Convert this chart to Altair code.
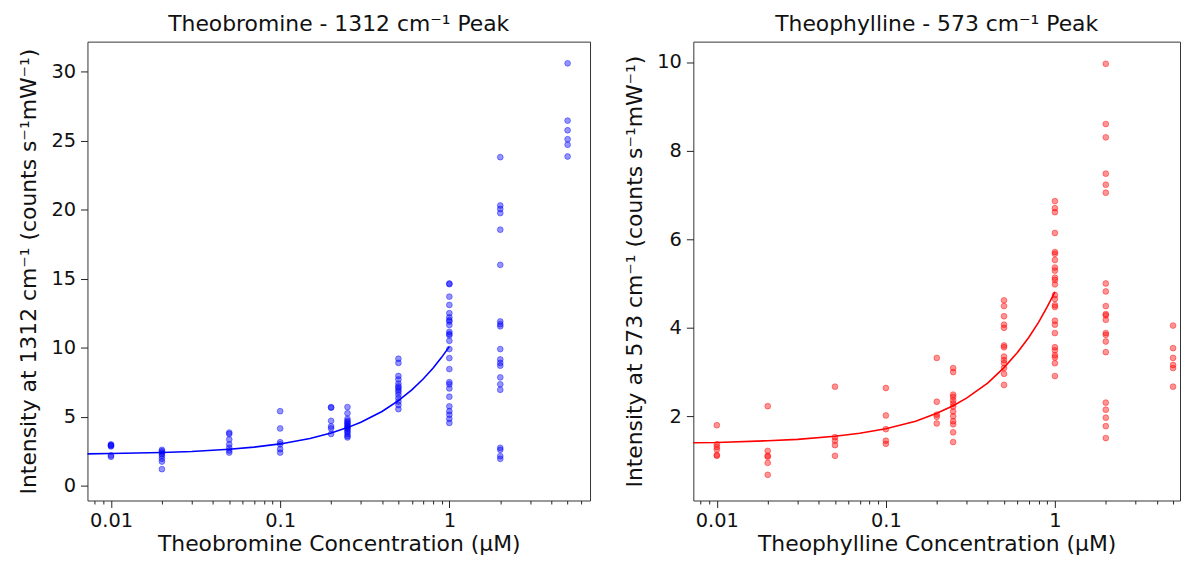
import altair as alt
import pandas as pd

# concentrations (µM)
conc = [0.01, 0.02, 0.05, 0.1, 0.2, 0.25, 0.5, 1, 2, 5]

# Theobromine intensities (1312 cm-1 peak), one list per concentration
theobromine_y = [
    [3.0, 2.95, 2.9, 2.85, 2.2, 2.1],
    [2.6, 2.5, 2.4, 2.3, 2.15, 1.95, 1.75, 1.2],
    [3.85, 3.75, 3.35, 3.0, 2.75, 2.55, 2.4],
    [5.4, 4.15, 3.15, 3.0, 2.65, 2.4],
    [5.7, 5.65, 4.7, 4.3, 4.15, 3.75],
    [5.7, 5.25, 4.85, 4.7, 4.6, 4.5, 4.4, 4.3, 4.2, 4.15, 4.0, 3.9, 3.75, 3.6, 3.5],
    [9.2, 8.9, 7.95, 7.7, 7.4, 7.2, 6.95, 6.6, 6.35, 6.1, 5.85, 5.55, 6.8, 7.1],
    [14.65, 14.6, 13.7, 13.1, 12.5, 12.2, 11.9, 11.65, 11.15, 11.0, 10.5, 9.9, 9.25,
     8.45, 7.5, 7.35, 7.05, 6.45, 5.75, 5.4, 5.15, 4.85, 4.55, 10.9, 12.0],
    [23.8, 20.3, 20.05, 19.75, 18.55, 16.0, 11.9, 11.7, 11.55, 9.9, 9.15, 8.9, 8.7,
     7.85, 7.35, 6.95, 2.75, 2.6, 2.15, 1.95],
    [30.6, 26.45, 25.75, 25.1, 24.7, 23.85],
]

# Theophylline intensities (573 cm-1 peak)
theophylline_y = [
    [1.8, 1.37, 1.31, 1.25, 1.13, 1.11],
    [2.23, 1.22, 1.11, 1.09, 0.95, 0.68],
    [2.67, 1.53, 1.45, 1.35, 1.11],
    [2.64, 2.02, 1.71, 1.45, 1.38],
    [3.32, 2.33, 2.04, 1.99, 1.84],
    [3.09, 3.0, 2.49, 2.44, 2.36, 2.29, 2.22, 2.11, 2.0, 1.89, 1.82, 1.64, 1.42],
    [4.62, 4.49, 4.26, 4.07, 4.0, 3.6, 3.56, 3.35, 3.27, 3.2, 3.09, 2.96, 2.71],
    [6.86, 6.7, 6.61, 6.14, 5.71, 5.67, 5.53, 5.36, 5.29, 5.13, 5.08, 4.98, 4.74,
     4.65, 4.51, 4.47, 4.16, 4.07, 3.88, 3.56, 3.49, 3.38, 3.33, 3.2, 2.91],
    [9.96, 8.6, 8.3, 7.48, 7.23, 7.05, 5.0, 4.82, 4.49, 4.31, 4.28, 4.18, 3.88,
     3.84, 3.69, 3.45, 2.31, 2.15, 1.97, 1.78, 1.51],
    [4.05, 3.54, 3.32, 3.16, 3.09, 2.67],
]

# fitted curves
fit_x = [0.005, 0.01, 0.02, 0.03, 0.05, 0.07, 0.1, 0.15, 0.2, 0.25, 0.3, 0.4,
         0.5, 0.6, 0.7, 0.8, 0.9, 1.0]
fit_theobromine = [2.29, 2.33, 2.41, 2.48, 2.64, 2.80, 3.03, 3.42, 3.82, 4.21,
                   4.60, 5.38, 6.17, 6.95, 7.73, 8.51, 9.30, 10.08]
fit_theophylline = [1.40, 1.41, 1.45, 1.48, 1.55, 1.62, 1.72, 1.89, 2.07, 2.24,
                    2.41, 2.75, 3.10, 3.44, 3.78, 4.12, 4.47, 4.81]

major_x = [0.01, 0.1, 1]
minor_x = [0.008, 0.009, 0.02, 0.03, 0.04, 0.05, 0.06, 0.07, 0.08, 0.09,
           0.2, 0.3, 0.4, 0.5, 0.6, 0.7, 0.8, 0.9, 2, 3, 4, 5, 6]
left_yticks = [0, 5, 10, 15, 20, 25, 30]
right_yticks = [2, 4, 6, 8, 10]

FONT = "DejaVu Sans"
TXT = "#111111"


def panel(ys, fit_y, color, title, ytitle, xtitle, ydomain, yticks, width, xmax):
    rows = [{"c": c, "v": v} for c, vals in zip(conc, ys) for v in vals]
    df = pd.DataFrame(rows)
    fit_df = pd.DataFrame({"c": fit_x, "v": fit_y})
    xs = alt.Scale(type="log", domain=[0.00726, xmax], nice=False)
    ysc = alt.Scale(domain=ydomain, nice=False, zero=False)
    major_test = "datum.value == 0.01 || datum.value == 0.1 || datum.value == 1"
    xaxis = alt.Axis(
        values=major_x + minor_x,
        labelExpr=f"({major_test}) ? format(datum.value, '~g') : ''",
        tickSize={"condition": {"test": major_test, "value": 7}, "value": 3.5},
        title=xtitle,
        labelFlush=False,
        labelOverlap=False,
        labelPadding=4,
        titlePadding=4,
    )
    yaxis = alt.Axis(values=yticks, title=ytitle, tickSize=7, labelPadding=5,
                     titlePadding=10)
    pts = alt.Chart(df).mark_circle(
        size=34, color=color, fillOpacity=0.42, stroke=color,
        strokeOpacity=0.42, strokeWidth=1, opacity=1,
    ).encode(
        x=alt.X("c:Q", scale=xs, axis=xaxis),
        y=alt.Y("v:Q", scale=ysc, axis=yaxis),
    )
    line = alt.Chart(fit_df).mark_line(color=color, strokeWidth=1.6, clip=True).encode(
        x=alt.X("c:Q", scale=xs),
        y=alt.Y("v:Q", scale=ysc),
    )
    return alt.layer(pts, line).properties(
        width=width, height=462,
        title=alt.TitleParams(title, fontSize=22, font=FONT, fontWeight="normal",
                              color=TXT, offset=6),
    )


left = panel(theobromine_y, fit_theobromine, "#0000ff",
             "Theobromine - 1312 cm⁻¹ Peak",
             "Intensity at 1312 cm⁻¹ (counts s⁻¹mW⁻¹)",
             "Theobromine Concentration (μM)", [-1.07, 32.17], left_yticks,
             506, 6.785)
right = panel(theophylline_y, fit_theophylline, "#ff0000",
              "Theophylline - 573 cm⁻¹ Peak",
              "Intensity at 573 cm⁻¹ (counts s⁻¹mW⁻¹)",
              "Theophylline Concentration (μM)", [0.10, 10.46], right_yticks,
              490, 5.495)

chart = alt.hconcat(left, right, spacing=32).properties(
    padding={"left": 9, "top": 2, "right": 0, "bottom": 0}
).configure(font=FONT).configure_view(
    stroke="#333333", strokeWidth=1
).configure_axis(
    domain=False, grid=False,
    labelFont=FONT, labelFontSize=19.5, labelColor=TXT,
    titleFont=FONT, titleFontSize=22, titleFontWeight="normal", titleColor=TXT,
    tickColor="#222222", tickWidth=1,
)

chart.save("out.html", embed_options={"renderer": "svg", "actions": False})
